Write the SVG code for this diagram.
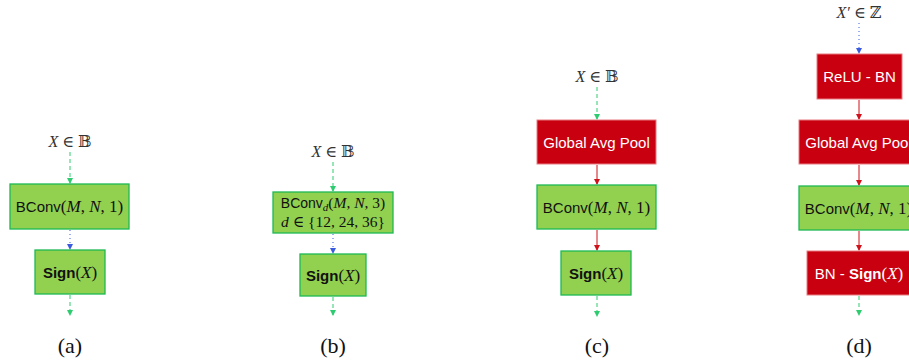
<svg xmlns="http://www.w3.org/2000/svg" width="909" height="360" viewBox="0 0 909 360">
<style>
.g{fill:#92D050;stroke:#1DB954;stroke-width:1.3}
.r{fill:#C9000F;stroke:#E87A80;stroke-width:1}
.t{font-family:"Liberation Sans",Arial,sans-serif;font-size:15px;text-anchor:middle;fill:#111}
.w{fill:#fff}
.m{font-family:"Liberation Serif","DejaVu Serif",serif;font-style:italic;font-size:17px}
.n{font-family:"Liberation Serif","DejaVu Serif",serif;font-style:normal;font-size:17px}
.lab{font-family:"Liberation Serif","Times New Roman",serif;font-size:22px;text-anchor:middle;fill:#111}
.in{font-family:"Liberation Serif","DejaVu Serif",serif;font-size:16px;text-anchor:middle;fill:#333}
.gd{stroke:#2ECC71;stroke-width:1;stroke-dasharray:4 3;fill:none}
.bd{stroke:#3A5BE0;stroke-width:1;stroke-dasharray:1 3;fill:none}
.rs{stroke:#D0101A;stroke-width:1;fill:none}
.sm .t{font-size:14px}
.sm .m,.sm .n{font-size:15.5px}
.sm .sub{font-size:11px}
</style>
<defs>
<marker id="ag" markerWidth="6" markerHeight="6" refX="5" refY="3" orient="auto" markerUnits="userSpaceOnUse"><path d="M0,0 L6,3 L0,6 z" fill="#2ECC71"/></marker>
<marker id="ab" markerWidth="6" markerHeight="6" refX="5" refY="3" orient="auto" markerUnits="userSpaceOnUse"><path d="M0,0 L6,3 L0,6 z" fill="#3A5BE0"/></marker>
<marker id="ar" markerWidth="6" markerHeight="6" refX="5" refY="3" orient="auto" markerUnits="userSpaceOnUse"><path d="M0,0 L6,3 L0,6 z" fill="#D0101A"/></marker>
</defs>

<g id="connectors">
<line class="gd" x1="70" y1="152" x2="70" y2="183" marker-end="url(#ag)"/>
<line class="bd" x1="70" y1="230" x2="70" y2="249" marker-end="url(#ab)"/>
<line class="gd" x1="70" y1="295" x2="70" y2="315" marker-end="url(#ag)"/>
<line class="gd" x1="333" y1="162" x2="333" y2="191" marker-end="url(#ag)"/>
<line class="bd" x1="333" y1="234" x2="333" y2="253" marker-end="url(#ab)"/>
<line class="gd" x1="333" y1="297" x2="333" y2="315" marker-end="url(#ag)"/>
<line class="gd" x1="597" y1="87" x2="597" y2="119" marker-end="url(#ag)"/>
<line class="rs" x1="597" y1="165" x2="597" y2="184" marker-end="url(#ar)"/>
<line class="rs" x1="597" y1="230" x2="597" y2="250" marker-end="url(#ar)"/>
<line class="gd" x1="597" y1="296" x2="597" y2="316" marker-end="url(#ag)"/>
<line class="bd" x1="859" y1="23" x2="859" y2="53" marker-end="url(#ab)"/>
<line class="rs" x1="859" y1="100" x2="859" y2="119" marker-end="url(#ar)"/>
<line class="rs" x1="859" y1="165" x2="859" y2="185" marker-end="url(#ar)"/>
<line class="rs" x1="859" y1="231" x2="859" y2="250" marker-end="url(#ar)"/>
<line class="gd" x1="859" y1="296" x2="859" y2="315" marker-end="url(#ag)"/>
</g>

<g id="in-a"><text class="in" x="70" y="147"><tspan font-style="italic">X</tspan> ∈ 𝔹</text></g>
<g id="in-b"><text class="in" x="333" y="157"><tspan font-style="italic">X</tspan> ∈ 𝔹</text></g>
<g id="in-c"><text class="in" x="597" y="82"><tspan font-style="italic">X</tspan> ∈ 𝔹</text></g>
<g id="in-d"><text class="in" x="859" y="18"><tspan font-style="italic">X′</tspan> ∈ ℤ</text></g>

<g id="a-bconv"><rect class="g" x="10" y="184" width="119" height="45"/>
<text class="t" x="69.5" y="212">BConv<tspan class="n">(</tspan><tspan class="m">M</tspan><tspan class="n">, </tspan><tspan class="m">N</tspan><tspan class="n">, 1)</tspan></text></g>
<g id="a-sign"><rect class="g" x="35" y="250" width="70" height="44"/>
<text class="t" x="70" y="277.5"><tspan font-weight="bold">Sign</tspan><tspan class="n">(</tspan><tspan class="m">X</tspan><tspan class="n">)</tspan></text></g>
<g id="a-label"><text class="lab" x="70" y="353">(a)</text></g>

<g id="b-bconv" class="sm"><rect class="g" x="273" y="192" width="120" height="41"/>
<text class="t" x="333" y="207.5">BConv<tspan class="m sub" dy="3">d</tspan><tspan class="n" dy="-3">(</tspan><tspan class="m">M</tspan><tspan class="n">, </tspan><tspan class="m">N</tspan><tspan class="n">, 3)</tspan></text>
<text class="t" x="333" y="226.5"><tspan class="m">d</tspan><tspan class="n"> ∈ {12, 24, 36}</tspan></text></g>
<g id="b-sign"><rect class="g" x="300" y="254" width="66" height="42"/>
<text class="t" x="333" y="280.5"><tspan font-weight="bold">Sign</tspan><tspan class="n">(</tspan><tspan class="m">X</tspan><tspan class="n">)</tspan></text></g>
<g id="b-label"><text class="lab" x="333" y="353">(b)</text></g>

<g id="c-gap"><rect class="r" x="537" y="120" width="119" height="44"/>
<text class="t w" x="596.5" y="147.5">Global Avg Pool</text></g>
<g id="c-bconv"><rect class="g" x="537" y="185" width="119" height="44"/>
<text class="t" x="596.5" y="212.5">BConv<tspan class="n">(</tspan><tspan class="m">M</tspan><tspan class="n">, </tspan><tspan class="m">N</tspan><tspan class="n">, 1)</tspan></text></g>
<g id="c-sign"><rect class="g" x="561" y="251" width="70" height="44"/>
<text class="t" x="596" y="278.5"><tspan font-weight="bold">Sign</tspan><tspan class="n">(</tspan><tspan class="m">X</tspan><tspan class="n">)</tspan></text></g>
<g id="c-label"><text class="lab" x="597" y="353">(c)</text></g>

<g id="d-relu"><rect class="r" x="817" y="54" width="85" height="45"/>
<text class="t w" x="859.5" y="82">ReLU - BN</text></g>
<g id="d-gap"><rect class="r" x="799" y="120" width="119" height="44"/>
<text class="t w" x="858.5" y="147.5">Global Avg Pool</text></g>
<g id="d-bconv"><rect class="g" x="799" y="186" width="119" height="44"/>
<text class="t" x="858.5" y="213.5">BConv<tspan class="n">(</tspan><tspan class="m">M</tspan><tspan class="n">, </tspan><tspan class="m">N</tspan><tspan class="n">, 1)</tspan></text></g>
<g id="d-bnsign"><rect class="r" x="807" y="251" width="104" height="44"/>
<text class="t w" x="859" y="278.5">BN - <tspan font-weight="bold">Sign</tspan><tspan class="n">(</tspan><tspan class="m">X</tspan><tspan class="n">)</tspan></text></g>
<g id="d-label"><text class="lab" x="859" y="353">(d)</text></g>
</svg>
